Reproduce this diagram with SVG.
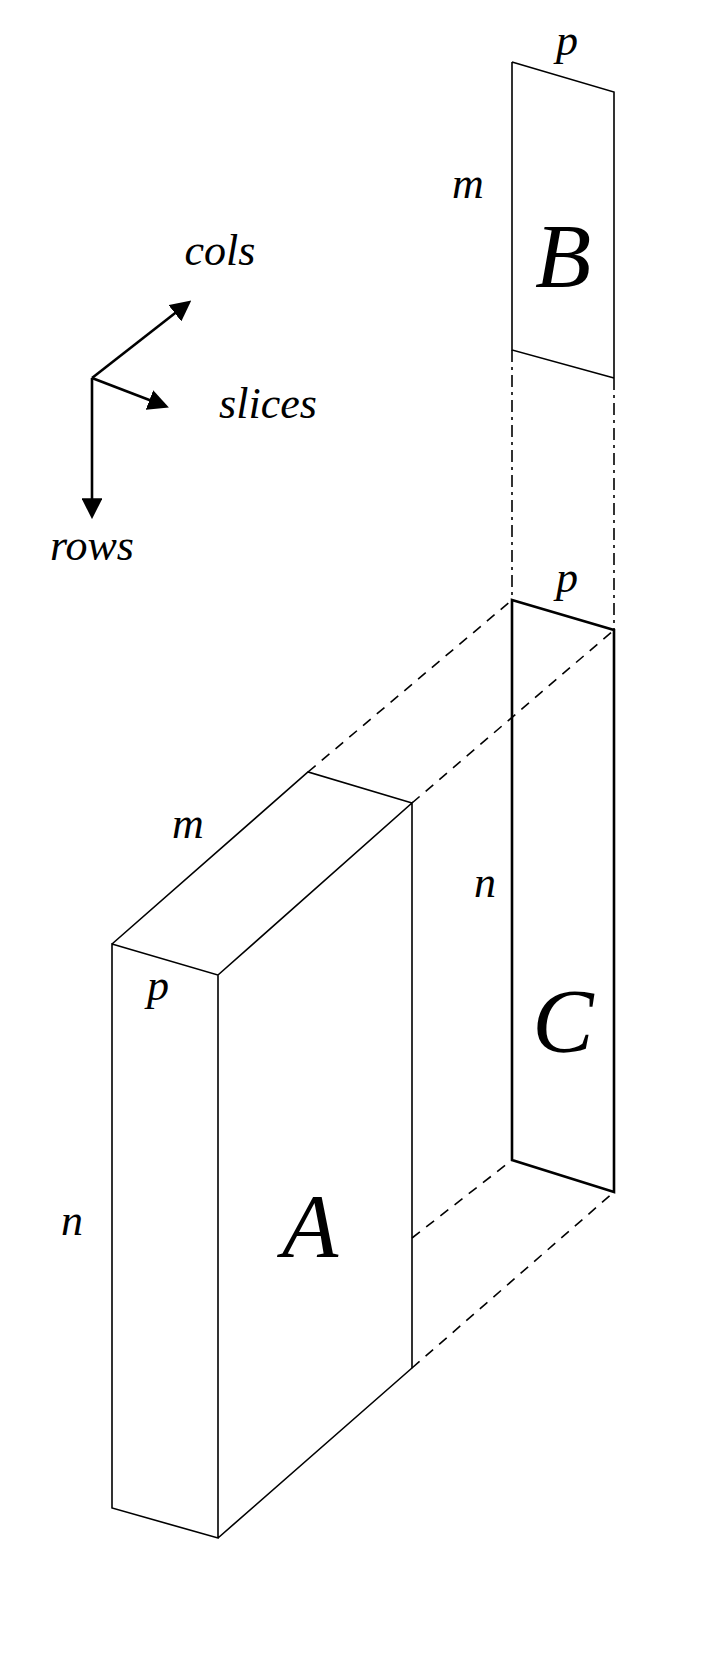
<svg xmlns="http://www.w3.org/2000/svg" width="720" height="1663" viewBox="0 0 720 1663">
<style>
.l{stroke:#000;stroke-width:1.6;fill:none}
.t{stroke:#000;stroke-width:2.6;fill:none}
.d{stroke:#000;stroke-width:1.6;fill:none;stroke-dasharray:10 8}
.dd{stroke:#000;stroke-width:1.6;fill:none;stroke-dasharray:12 5 3 5}
text{font-family:"Liberation Serif","DejaVu Serif",serif;font-style:italic;fill:#000;text-anchor:middle}
.s{font-size:44px}
.b{font-size:92px}
</style>
<defs><marker id="ah" viewBox="0 0 10 10" refX="8" refY="5" markerWidth="8" markerHeight="8" orient="auto"><path d="M0,0L10,5L0,10z" fill="#000"/></marker></defs>
<rect width="720" height="1663" fill="#fff"/>
<g id="axes">
<path class="t" d="M92,378L188,303" marker-end="url(#ah)"/>
<path class="t" d="M92,378L165,406" marker-end="url(#ah)"/>
<path class="t" d="M92,378L92,515" marker-end="url(#ah)"/>
<text class="s" x="220" y="265">cols</text>
<text class="s" x="268" y="418">slices</text>
<text class="s" x="92" y="560">rows</text>
</g>
<g id="connectors">
<path class="dd" d="M512,350L512,600M614,378L614,630"/>
<path class="d" d="M308,772L512,600M412,803L614,630M412,1238L512,1160M412,1368L614,1192"/>
</g>
<g id="B">
<path class="l" d="M512,62L614,92L614,378M512,62L512,350L614,378"/>
<text class="s" x="567" y="55">p</text>
<text class="s" x="468" y="198">m</text>
<text class="b" x="563" y="287">B</text>
</g>
<g id="C">
<path class="t" d="M512,600L614,630L614,1192L512,1160Z"/>
<text class="s" x="567" y="592">p</text>
<text class="s" x="485" y="897">n</text>
<text class="b" x="563" y="1052">C</text>
</g>
<g id="A">
<path class="l" d="M112,944L218,975L218,1538L112,1508Z M218,975L412,803L412,1368L218,1538 M112,944L308,772L412,803"/>
<text class="s" x="188" y="838">m</text>
<text class="s" x="158" y="1000">p</text>
<text class="s" x="72" y="1235">n</text>
<text class="b" x="310" y="1257">A</text>
</g>
</svg>
